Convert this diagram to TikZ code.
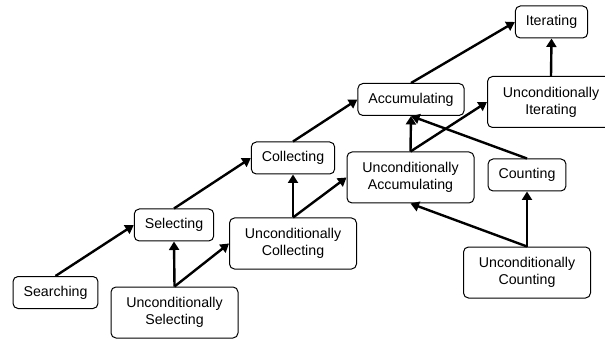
\documentclass[tikz,border=0pt]{standalone}
\usepackage{fontspec}
\setmainfont{Liberation Sans}
\usetikzlibrary{arrows.meta}

\tikzset{
  stage/.style={draw, line width=1pt, rounded corners=5pt, align=center,
    inner xsep=10.5pt, inner ysep=0pt, minimum height=32pt,
    font=\fontsize{14.2}{17.3}\selectfont},
  ustage/.style={stage, minimum width=127pt, minimum height=51pt},
  lift/.style={-{Triangle[length=8.5pt,width=10pt]}, line width=2.4pt}
}

\begin{document}
\begin{tikzpicture}[x=1pt,y=-1pt]
\useasboundingbox (0,0) rectangle (605,339);

 \node[stage] (searching) at (55.5,292.5) {Searching};
 \node[stage] (selecting) at (174,225) {Selecting};
 \node[stage] (collecting) at (293,158) {Collecting};
 \node[stage] (accumulating) at (411,99.5) {Accumulating};
 \node[stage] (iterating) at (551.5,22) {Iterating};
 \node[stage] (counting) at (527,175) {Counting};

 \node[ustage] (uselecting) at (174.5,312.5) {Unconditionally\\Selecting};
 \node[ustage] (ucollecting) at (293,243.5) {Unconditionally\\Collecting};
 \node[ustage] (uaccumulating) at (410.5,177.5) {Unconditionally\\Accumulating};
 \node[ustage] (uiterating) at (551,102) {Unconditionally\\Iterating};
 \node[ustage] (ucounting) at (527,272.5) {Unconditionally\\Counting};

 % main line
 \draw[lift] (searching.north) -- (selecting.west);
 \draw[lift] (selecting.north) -- (collecting.west);
 \draw[lift] (collecting.north) -- (accumulating.west);
 \draw[lift] (accumulating.north) -- (iterating.west);

 % unconditional line
 \draw[lift] (uselecting.north) -- (ucollecting.west);
 \draw[lift] (ucollecting.north) -- (uaccumulating.west);
 \draw[lift] (uaccumulating.north) -- (uiterating.west);
 \draw[lift] (ucounting.north) -- (uaccumulating.south);

 % upwards
 \draw[lift] (uselecting.north) -- (selecting.south);
 \draw[lift] (ucollecting.north) -- (collecting.south);
 \draw[lift] (uaccumulating.north) -- (accumulating.south);
 \draw[lift] (uiterating.north) -- (iterating.south);
 \draw[lift] (ucounting.north) -- (counting.south);
 \draw[lift] (counting.north) -- (accumulating.south);
\end{tikzpicture}
\end{document}
